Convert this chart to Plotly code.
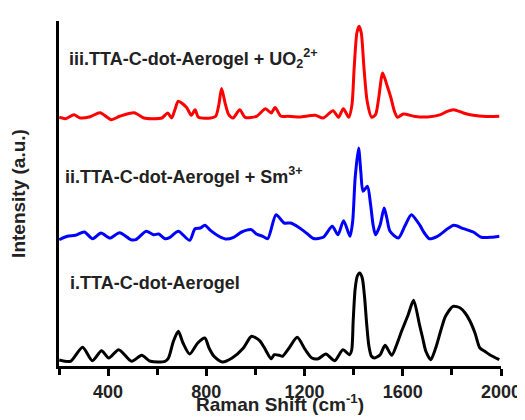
import plotly.graph_objects as go

# Raman shift (cm^-1) and intensities (a.u., stacked offsets as drawn)
black_x = [201, 247, 296, 336, 373, 403, 443, 496, 537, 572, 632, 646, 666, 686, 705, 732, 765, 794, 811, 831,
           865, 905, 951, 984, 1017, 1037, 1064, 1077, 1097, 1110, 1137, 1170, 1203, 1230, 1256, 1287, 1323, 1356,
           1383, 1392, 1398, 1406, 1415, 1425, 1435, 1444, 1453, 1462, 1472, 1485, 1508, 1528, 1555, 1575, 1595,
           1622, 1644, 1668, 1681, 1694, 1714, 1734, 1754, 1774, 1805, 1834, 1854, 1874, 1894, 1914, 1934, 1954, 1993]
black_y = [6, 4.7, 18.7, 5.3, 15.3, 8, 16.3, 4.7, 10.7, 4.7, 4.7, 8, 24.7, 34.7, 23, 12, 23, 28, 18, 9.7,
           4, 8, 18, 29.7, 25.3, 18, 7.3, 11.3, 10.7, 9.7, 18, 28.7, 16.3, 8, 7.3, 12, 5.3, 16.3,
           11.3, 16, 45, 77, 90, 93, 88, 70, 42, 20, 10, 8, 11.3, 20.7, 10.7, 21.3, 34.7,
           51.3, 65.7, 41.3, 28, 14.7, 6.3, 18, 34.7, 49.7, 59.7, 58, 53, 44.7, 33, 18, 14.7, 11.3, 6.3]

blue_x = [201, 234, 267, 303, 337, 371, 407, 447, 493, 513, 555, 586, 606, 632, 652, 686, 732, 754, 776, 794,
          818, 851, 878, 911, 944, 984, 1004, 1030, 1050, 1084, 1117, 1144, 1177, 1210, 1236, 1276, 1313, 1336,
          1359, 1385, 1396, 1406, 1420, 1429, 1438, 1456, 1469, 1479, 1489, 1508, 1524, 1535, 1548, 1582, 1608,
          1635, 1668, 1688, 1708, 1741, 1807, 1847, 1887, 1920, 1960, 1993]
blue_y = [126.3, 129.7, 130.7, 134, 127.3, 133, 128, 133.3, 126.3, 126.3, 134.7, 131.3, 132, 127.3, 128.7, 134.7,
          125.7, 137.3, 138, 140.7, 135.3, 129.7, 127, 128.7, 134, 136.3, 132, 129.7, 127.3, 151.3, 143, 143,
          138.5, 132.5, 127.5, 128.7, 139.7, 131.3, 145.3, 129.7, 144.7, 188, 218, 194.7, 174.7, 179.7, 161.3,
          141.3, 131.3, 141.3, 158, 148, 134.7, 128, 139.7, 151.3, 141.3, 133, 127.3, 129.7, 140.7, 137.3, 134,
          128.7, 128.7, 129.7]

red_x = [201, 227, 261, 287, 327, 367, 413, 447, 506, 546, 579, 619, 643, 659, 672, 686, 719, 739, 754, 768,
         818, 838, 851, 862, 878, 891, 909, 936, 958, 1004, 1041, 1064, 1080, 1104, 1130, 1180, 1243, 1276, 1316,
         1338, 1358, 1380, 1393, 1402, 1413, 1422, 1431, 1442, 1455, 1473, 1489, 1502, 1518, 1535, 1552, 1566,
         1579, 1602, 1650, 1701, 1754, 1781, 1807, 1847, 1887, 1940, 1993]
red_y = [248.7, 247.3, 251.3, 248, 249.3, 253.3, 246.3, 249.7, 253.3, 248, 247.3, 248, 253, 248, 256.3, 264.7,
         258.7, 250.7, 256.3, 248.7, 248, 249.7, 261.3, 277.5, 261.3, 251.3, 248, 256.3, 248.7, 249.7, 257.3, 253,
         258.5, 249.7, 249.7, 249, 250.7, 248, 255.3, 248.7, 257.3, 248.7, 261.3, 298, 333, 339.7, 333, 298,
         264.7, 248.7, 251.3, 268, 293, 281.3, 268, 254.7, 248.7, 252, 249.5, 249, 251.3, 254.7, 256.3, 253,
         250.7, 249.5, 249.7]

labels = ["i.TTA-C-dot-Aerogel",
          "ii.TTA-C-dot-Aerogel + Sm<sup>3+</sup>",
          "iii.TTA-C-dot-Aerogel + UO<sub>2</sub><sup>2+</sup>"]
label_x = [235, 218, 232]
label_y = [83, 191, 308]

x_title = "Raman Shift (cm<sup>-1</sup>)"
y_title = "Intensity (a.u.)"

FONT = "Arial, Liberation Sans, sans-serif"

fig = go.Figure()
for xs, ys, col in [(black_x, black_y, "#000000"), (blue_x, blue_y, "#0000FF"), (red_x, red_y, "#FF0000")]:
    fig.add_trace(go.Scatter(x=xs, y=ys, mode="lines",
                             line=dict(color=col, width=3, shape="spline", smoothing=0.7),
                             showlegend=False, hoverinfo="skip"))

for t, lx, ly in zip(labels, label_x, label_y):
    fig.add_annotation(x=lx, y=ly, text=t, showarrow=False, xanchor="left", yanchor="middle",
                       font=dict(family=FONT, size=18, color="#222222", weight="bold"))

fig.add_annotation(x=0.5, y=-0.106, xref="paper", yref="paper", text=x_title, showarrow=False,
                   xanchor="center", yanchor="middle",
                   font=dict(family=FONT, size=19, color="#222222", weight="bold"))

fig.update_layout(
    width=525, height=420,
    margin=dict(l=50, r=23, t=13, b=62),
    plot_bgcolor="white", paper_bgcolor="white",
    xaxis=dict(range=[200, 2000], showline=True, linewidth=3, linecolor="black",
               ticks="outside", ticklen=7, tickwidth=2.5, tickcolor="black",
               tick0=0, dtick=400, showgrid=False, zeroline=False,
               minor=dict(tick0=0, dtick=200, ticks="outside", ticklen=6, tickwidth=2.5, tickcolor="black"),
               tickfont=dict(family=FONT, size=18, color="#222222", weight="bold")),
    yaxis=dict(range=[0, 345], showline=True, linewidth=3, linecolor="black",
               showticklabels=False, ticks="", showgrid=False, zeroline=False,
               title=dict(text=y_title, standoff=26,
                          font=dict(family=FONT, size=19, color="#222222", weight="bold"))),
)

fig.write_html("out.html")
